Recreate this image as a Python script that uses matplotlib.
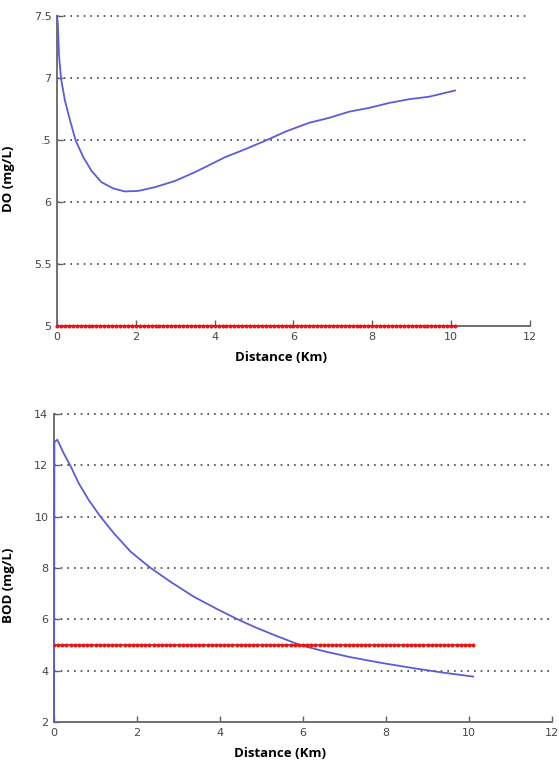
import numpy as np
from matplotlib import pyplot as plt

plt.switch_backend('agg')

# dissolved oxygen along the river
do_dist = [0, 0.02, 0.05, 0.10, 0.20, 0.33, 0.47, 0.67, 0.88, 1.13, 1.43, 1.72,
           2.06, 2.48, 2.99, 3.49, 4.0, 4.25, 4.8, 5.32, 5.81, 6.4, 6.91, 7.42,
           7.92, 8.43, 8.94, 9.44, 10.1]
do_val = [7.5, 7.44, 7.19, 7.0, 6.82, 6.66, 6.5, 6.36, 6.25, 6.16, 6.11, 6.086,
          6.09, 6.12, 6.17, 6.24, 6.32, 6.36, 6.43, 6.5, 6.57, 6.64, 6.68, 6.73,
          6.76, 6.80, 6.83, 6.85, 6.90]

# BOD along the river
bod_dist = [0, 0.01, 0.08, 0.24, 0.39, 0.60, 0.84, 1.12, 1.45, 1.85, 2.33, 2.81,
            3.37, 3.93, 4.40, 4.82, 5.35, 5.93, 6.5, 7.13, 7.9, 8.65, 9.35, 10.1]
bod_val = [2.0, 12.9, 13.0, 12.45, 12.0, 11.29, 10.64, 10.0, 9.34, 8.63, 8.0, 7.46,
           6.88, 6.40, 6.02, 5.71, 5.36, 5.0, 4.76, 4.53, 4.30, 4.1, 3.93, 3.77]

do_limit = 5.0
bod_limit = 5.0
dist_end = 10.1
n_std = 102

do_yticks = [5, 5.5, 6, 6.5, 7, 7.5]
do_ylabels = ['5', '5.5', '6', '.5', '7', '7.5']
bod_yticks = [2, 4, 6, 8, 10, 12, 14]
xticks = [0, 2, 4, 6, 8, 10, 12]

blue = '#5c5cd8'
red = '#e01818'

fig = plt.figure(figsize=(5.59, 7.69), dpi=100)
ax1 = fig.add_axes([0.102, 0.576, 0.846, 0.403])
ax2 = fig.add_axes([0.0966, 0.0611, 0.891, 0.4005])


def style(ax):
    for s in ['top', 'right']:
        ax.spines[s].set_visible(False)
    for s in ['left', 'bottom']:
        ax.spines[s].set_color('#707070')
        ax.spines[s].set_linewidth(1.4)
    ax.tick_params(direction='in', length=4, width=1, colors='#606060',
                   labelsize=8, labelcolor='#454545', pad=4)
    ax.yaxis.grid(True, linestyle=(0, (1, 3)), color='#404040', linewidth=1.2)
    ax.set_axisbelow(True)
    ax.set_xticks(xticks)
    ax.set_xlim(0, 12)


std_x = np.linspace(0, dist_end, n_std)

# top: DO
style(ax1)
ax1.plot(do_dist, do_val, color=blue, lw=1.3, zorder=3, clip_on=False)
ax1.plot(std_x, [do_limit] * n_std, color=red, lw=1.2, marker='.', ms=3.8,
         clip_on=False, zorder=3)
ax1.set_ylim(5, 7.5)
ax1.set_yticks(do_yticks)
ax1.set_yticklabels(do_ylabels)
ax1.set_xlabel('Distance (Km)', fontfamily='Open Sans', fontweight='bold', fontsize=9.5)
ax1.set_ylabel('DO (mg/L)', fontfamily='Open Sans', fontweight='bold', fontsize=9.5)
ax1.xaxis.set_label_coords(0.474, -0.08)
ax1.yaxis.set_label_coords(-0.089, 0.475)

# bottom: BOD
style(ax2)
ax2.plot(bod_dist, bod_val, color=blue, lw=1.3, zorder=3, clip_on=False)
ax2.plot(std_x, [bod_limit] * n_std, color=red, lw=1.2, marker='.', ms=3.8, zorder=3)
ax2.set_ylim(2, 14)
ax2.set_yticks(bod_yticks)
ax2.set_xlabel('Distance (Km)', fontfamily='Open Sans', fontweight='bold', fontsize=9.5)
ax2.set_ylabel('BOD (mg/L)', fontfamily='Open Sans', fontweight='bold', fontsize=9.5)
ax2.xaxis.set_label_coords(0.454, -0.08)
ax2.yaxis.set_label_coords(-0.078, 0.445)

# keep the gridline on the top edge from being half clipped
for ax in (ax1, ax2):
    for gl in ax.get_ygridlines():
        gl.set_clip_on(False)

fig.savefig('out.png', dpi=100)
